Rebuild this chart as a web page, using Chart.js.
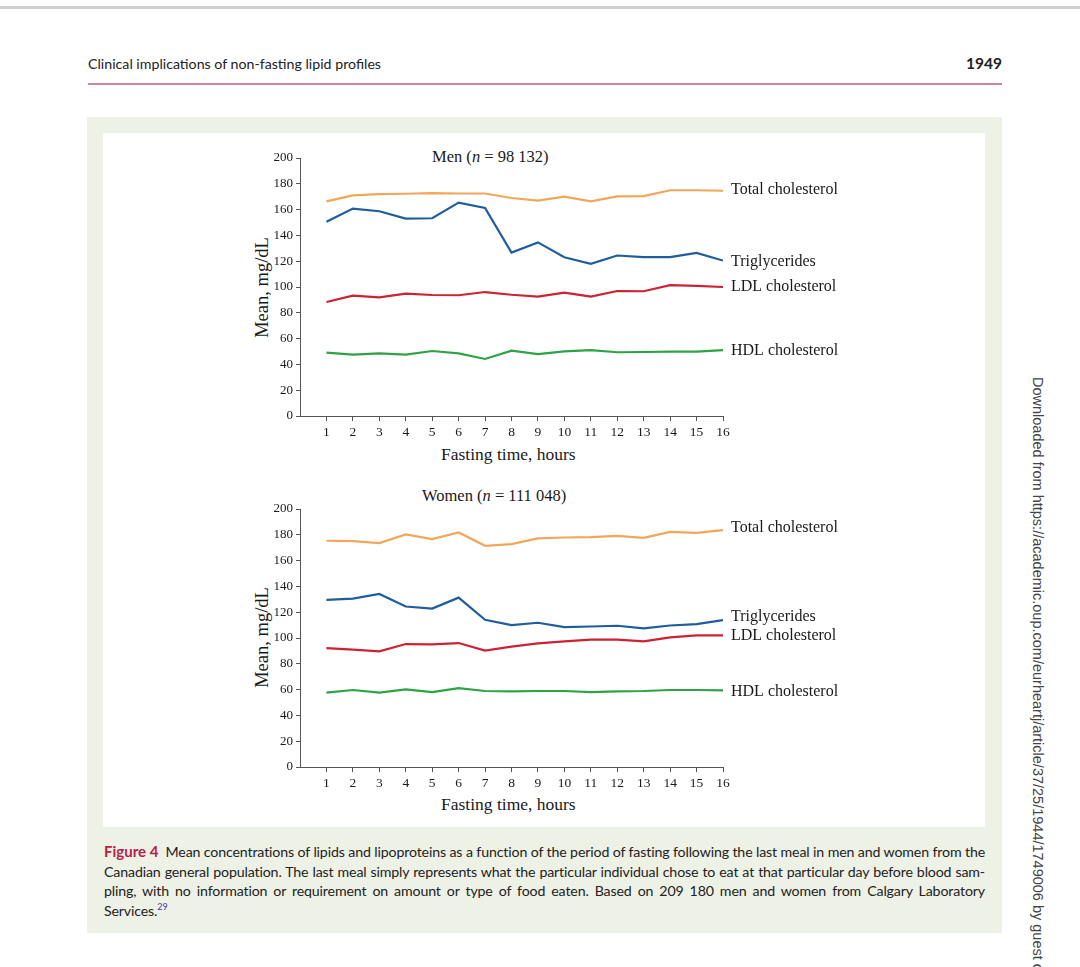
<!DOCTYPE html>
<html>
<head>
<meta charset="utf-8">
<script src="https://cdn.jsdelivr.net/npm/chart.js@4.4.1/dist/chart.umd.min.js"></script>
<style>
  html, body { margin:0; padding:0; background:#fff; }
  body { width:1080px; height:967px; position:relative; overflow:hidden; }
  .abs { position:absolute; white-space:nowrap; }
  #topbar { left:0; top:6px; width:1080px; height:3px; background:#cfcfcf; }
  #head { left:88px; top:55px; font-family:'Lato',sans-serif; font-size:14.2px; color:#222; }
  #pg { left:952px; top:54px; width:50px; text-align:right; font-family:'Lato',sans-serif; font-weight:bold; font-size:15.5px; color:#222; }
  #rule { left:88px; top:83px; width:914px; height:1.5px; background:#c98892; }
  #box { left:87px; top:117px; width:915px; height:816px; background:#eef1e6; }
  #inner { left:103px; top:133px; width:882px; height:694px; background:#fff; }
  canvas { position:absolute; }
  .serif { font-family:'Liberation Serif','Times New Roman',serif; color:#1a1a1a; }
  .ttl { font-size:16.5px; }
  .xt { font-size:17.5px; }
  .yt { font-size:18.5px; transform:rotate(-90deg); transform-origin:center center; }
  #cap { left:104px; top:842px; width:881px; font-family:'Lato',sans-serif; font-size:14.2px; color:#222; line-height:19.7px; letter-spacing:-0.15px; }
  #cap div { text-align:justify; text-align-last:justify; white-space:nowrap; }
  #cap div.last { text-align-last:left; }
  #cap b { color:#b5224a; font-size:15px; letter-spacing:0; }
  #cap sup { color:#3a3a9a; font-size:9px; line-height:0; }
  #side { left:1046px; top:377px; transform-origin:0 0; transform:rotate(90deg); font-family:'Liberation Sans',Arial,sans-serif; font-size:14.5px; color:#444; }
</style>
</head>
<body>
<div class="abs" id="topbar"></div>
<div class="abs" id="head">Clinical implications of non-fasting lipid profiles</div>
<div class="abs" id="pg">1949</div>
<div class="abs" id="rule"></div>
<div class="abs" id="box"></div>
<div class="abs" id="inner"></div>

<div class="abs serif ttl" style="left:432px; top:147px;">Men (<i>n</i> = 98 132)</div>
<div class="abs serif xt" style="left:441px; top:444px;">Fasting time, hours</div>
<div class="abs serif yt" style="left:205px; top:277px; width:115px; text-align:center;">Mean, mg/dL</div>

<div class="abs serif ttl" style="left:422px; top:486px;">Women (<i>n</i> = 111 048)</div>
<div class="abs serif xt" style="left:441px; top:794px;">Fasting time, hours</div>
<div class="abs serif yt" style="left:205px; top:627px; width:115px; text-align:center;">Mean, mg/dL</div>

<canvas id="c1" style="left:200px; top:130px; width:660px; height:340px;" width="660" height="340"></canvas>
<canvas id="c2" style="left:200px; top:481px; width:660px; height:340px;" width="660" height="340"></canvas>

<div class="abs" id="cap">
  <div><b>Figure 4</b>&nbsp; Mean concentrations of lipids and lipoproteins as a function of the period of fasting following the last meal in men and women from the</div>
  <div>Canadian general population. The last meal simply represents what the particular individual chose to eat at that particular day before blood sam-</div>
  <div>pling, with no information or requirement on amount or type of food eaten. Based on 209 180 men and women from Calgary Laboratory</div>
  <div class="last">Services.<sup>29</sup></div>
</div>
<div class="abs" id="side">Downloaded from https://academic.oup.com/eurheartj/article/37/25/1944/1749006 by guest on</div>

<script>
// ---- Data ----
const hours = [1,2,3,4,5,6,7,8,9,10,11,12,13,14,15,16];
const seriesNames = ['Total cholesterol','Triglycerides','LDL cholesterol','HDL cholesterol'];
const yTicks = [0,20,40,60,80,100,120,140,160,180,200];

const menTotal = [166.4,171,172,172.3,172.8,172.5,172.5,169,167,170,166.4,170.3,170.5,175,175,174.6];
const menTrig  = [150.5,160.8,158.7,153,153.3,165.4,161.3,126.7,134.6,123.1,118,124.4,123.1,123.1,126.4,120.5];
const menLDL   = [88.4,93.3,92,94.9,93.8,93.6,96.1,94,92.5,95.6,92.5,96.9,96.7,101.5,100.8,100];
const menHDL   = [49.1,47.6,48.6,47.6,50.4,48.6,44.2,50.6,48,50.1,51.1,49.4,49.6,49.9,49.9,51.1];

const womenTotal = [175.4,175.1,173.6,180.3,176.7,181.8,171.5,172.8,177.2,177.9,178.2,179.2,177.6,182.3,181.5,183.6];
const womenTrig  = [129.5,130.5,134.1,124.4,122.8,131.3,114.1,110,111.8,108.4,108.9,109.5,107.4,109.7,110.7,113.8];
const womenLDL   = [92.2,91,89.7,95.3,95.1,96.1,90.2,93.3,95.9,97.4,98.7,98.7,97.4,100.5,102.1,102.1];
const womenHDL   = [57.6,59.7,57.6,60.2,58.1,61.2,58.9,58.7,58.9,58.9,58.1,58.7,58.9,59.7,59.7,59.4];

// ---- Styles ----
const colors = ['#f2a65a', '#1f5d9c', '#cc2233', '#2ea346'];

const endLabels = {
  id: 'endLabels',
  afterDatasetsDraw(chart, args, opts) {
    const ctx = chart.ctx, ys = chart.scales.y, xs = chart.scales.x;
    ctx.save();
    ctx.font = '16px "Liberation Serif", "Times New Roman", serif';
    ctx.fillStyle = '#1a1a1a';
    ctx.textBaseline = 'middle';
    ctx.textAlign = 'left';
    chart.data.datasets.forEach((ds, i) => {
      const last = ds.data[ds.data.length - 1];
      const y = ys.getPixelForValue(last.y) + (opts.dy[i] || 0);
      const x = xs.getPixelForValue(last.x) + 8;
      ctx.fillText(ds.label, x, y);
    });
    ctx.restore();
  }
};

function makeChart(id, arrays, dy) {
  const datasets = arrays.map((arr, i) => ({
    label: seriesNames[i],
    data: hours.map((h, k) => ({x: h, y: arr[k]})),
    borderColor: colors[i],
    backgroundColor: colors[i],
    borderWidth: 2.2,
    pointRadius: 0,
    tension: 0,
    fill: false
  }));
  return new Chart(document.getElementById(id), {
    type: 'line',
    data: { datasets },
    plugins: [endLabels],
    options: {
      responsive: false,
      animation: false,
      devicePixelRatio: 1,
      layout: { padding: { left: 0, right: 137, top: 28, bottom: 0 } },
      plugins: {
        legend: { display: false },
        tooltip: { enabled: false },
        title: { display: false },
        endLabels: { dy: dy }
      },
      scales: {
        x: {
          type: 'linear', min: 0, max: 16,
          afterBuildTicks(s) { s.ticks = hours.map(v => ({value: v})); },
          afterFit(s) { s.height = 54; },
          grid: { drawOnChartArea: false, drawTicks: true, tickLength: 5, color: '#555', tickColor: '#555' },
          border: { display: true, color: '#555', width: 1 },
          ticks: { color: '#1a1a1a', padding: 3, maxRotation: 0, autoSkip: false,
                   font: { family: '"Liberation Serif", "Times New Roman", serif', size: 13.5 } }
        },
        y: {
          type: 'linear', min: 0, max: 200,
          afterBuildTicks(s) { s.ticks = yTicks.map(v => ({value: v})); },
          afterFit(s) { s.width = 100; },
          grid: { drawOnChartArea: false, drawTicks: true, tickLength: 4, color: '#555', tickColor: '#555' },
          border: { display: true, color: '#555', width: 1 },
          ticks: { color: '#1a1a1a', padding: 3,
                   font: { family: '"Liberation Serif", "Times New Roman", serif', size: 13 } }
        }
      }
    }
  });
}

makeChart('c1', [menTotal, menTrig, menLDL, menHDL], [-1, 1, 0, 1]);
makeChart('c2', [womenTotal, womenTrig, womenLDL, womenHDL], [-2, -3, 1, 1]);
</script>
</body>
</html>
